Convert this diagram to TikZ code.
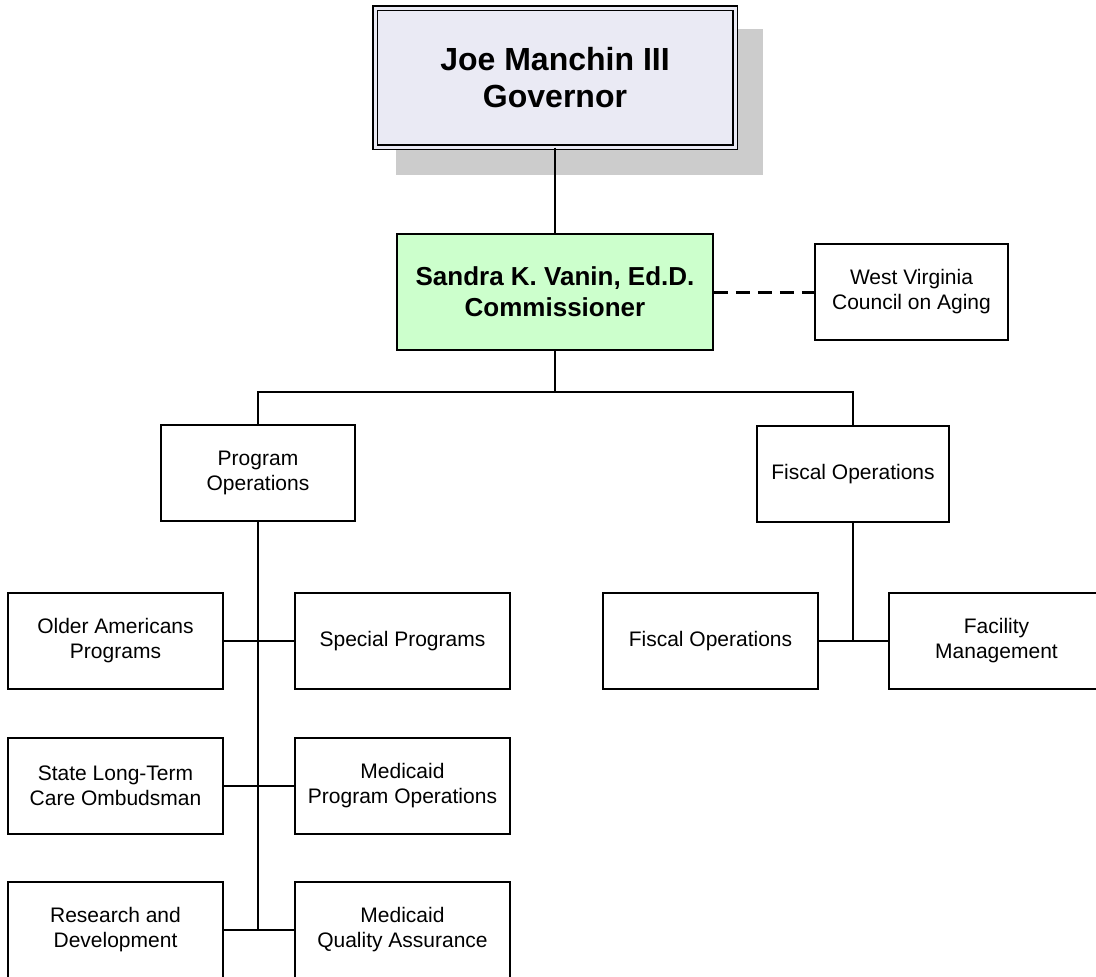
\documentclass[tikz,border=0pt]{standalone}
\usepackage{fontspec}
\setmainfont{Liberation Sans}
\usetikzlibrary{backgrounds}
\definecolor{govfill}{HTML}{EAEAF4}
\definecolor{govshade}{HTML}{CCCCCC}
\definecolor{comfill}{HTML}{CCFFCC}

\begin{document}
\begin{tikzpicture}[x=1pt, y=-1pt,
        unit/.style={rectangle, draw, fill=white, line width=1.7pt, inner sep=0pt, align=center,
            minimum width=215pt, minimum height=96pt, font=\fontsize{21}{25}\selectfont},
        office/.style={unit, minimum width=194pt},
        head/.style={rectangle, draw, fill=govfill, double=govfill, double distance=3pt, line width=1.4pt,
            inner sep=0pt, align=center, minimum width=360pt, minimum height=139pt,
            font=\bfseries\fontsize{32}{37}\selectfont},
        chief/.style={unit, fill=comfill, minimum width=316pt, minimum height=116pt,
            font=\bfseries\fontsize{26}{31}\selectfont},
        link/.style={line width=2pt},
        advisory/.style={line width=3pt, dash pattern=on 14pt off 8pt}]
    \useasboundingbox (0, 0) rectangle (1096, 977);
    \clip (0, 0) rectangle (1096, 977);

    \node[head] at (555, 77.5) (gov) {Joe Manchin III\\Governor};
    \node[chief] at (555, 292) (com) {Sandra K. Vanin, Ed.D.\\Commissioner};
    \node[office, minimum width=193pt] at (911.5, 292) (council) {West Virginia\\Council on Aging};

    \node[office] at (258, 473) (prog) {Program\\Operations};
    \node[office, minimum width=192pt] at (853, 474) (fisc) {Fiscal Operations};

    \node[unit] at (115.5, 641) (older) {Older Americans\\Programs};
    \node[unit] at (402.5, 641) (special) {Special Programs};
    \node[unit] at (115.5, 786) (ombud) {State Long-Term\\Care Ombudsman};
    \node[unit] at (402.5, 786) (medprog) {Medicaid\\Program Operations};
    \node[unit] at (115.5, 930) (research) {Research and\\Development};
    \node[unit] at (402.5, 930) (medqa) {Medicaid\\Quality Assurance};

    \node[unit] at (710.5, 641) (fiscops) {Fiscal Operations};
    \node[unit] at (996.5, 641) (facility) {Facility\\Management};

    \begin{scope}[on background layer]
        \fill[govshade] ([shift={(22, 22)}]gov.north west) rectangle ([shift={(27, 27)}]gov.south east);
    \end{scope}

    \draw[link] (gov.south) -- (com.north);
    \draw[advisory] (com.east) -- (council.west);
    \draw[link] (com.south) -- ++(0, 41) -| (prog.north);
    \draw[link] (com.south) -- ++(0, 41) -| (fisc.north);

    \draw[link] (prog.south) -- (prog.south |- research.east);
    \draw[link] (older) -- (special);
    \draw[link] (ombud) -- (medprog);
    \draw[link] (research) -- (medqa);

    \draw[link] (fisc.south) -- (fisc.south |- fiscops.east);
    \draw[link] (fiscops) -- (facility);
\end{tikzpicture}
\end{document}
